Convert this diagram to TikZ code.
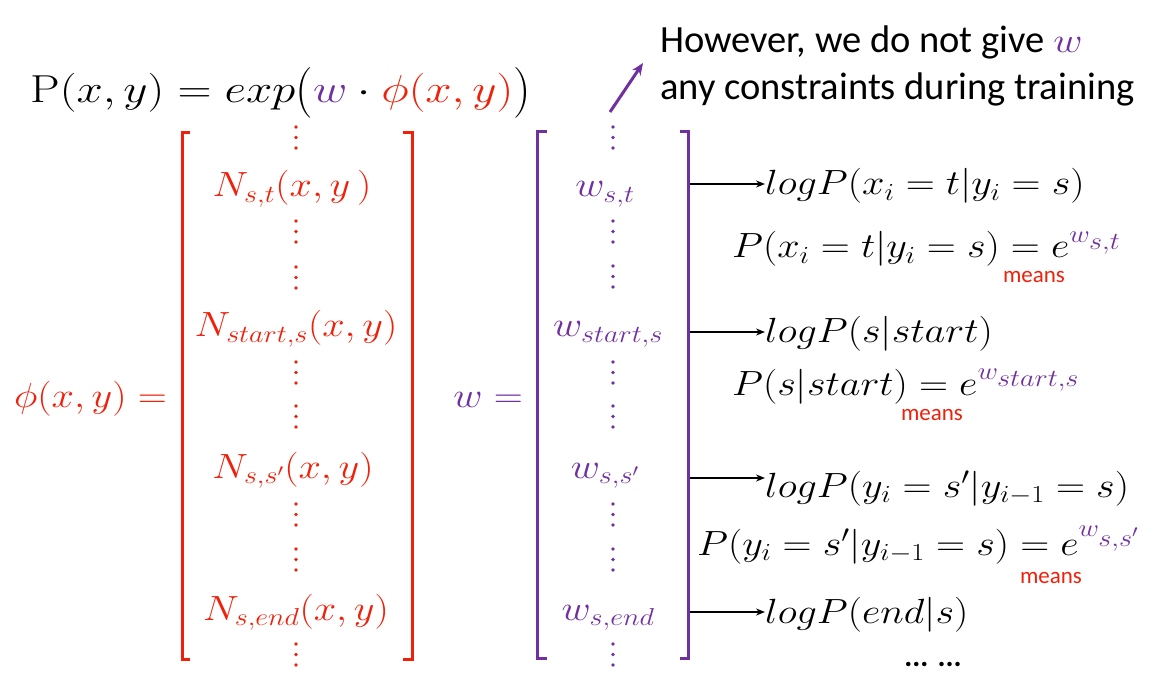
\RequirePackage{fix-cm}
\documentclass[tikz,border=0pt]{standalone}
\usepackage{fontspec}
\usepackage{graphicx}
\usetikzlibrary{arrows.meta}
\newfontfamily\calibri{Carlito}
\definecolor{myred}{RGB}{240,32,10}
\definecolor{mypurple}{RGB}{112,48,160}
\newcommand{\W}[1]{\scalebox{1.15}[1]{#1}}
\newcommand{\mfont}{\fontsize{35}{42}\selectfont}
\newcommand{\bpl}{\mathopen{\vcenter{\hbox{\scalebox{1.05}[1.3]{$($}}}}}
\newcommand{\bpr}{\mathclose{\vcenter{\hbox{\scalebox{1.05}[1.3]{$)$}}}}}
\tikzset{
  mtxt/.style={inner sep=0pt, font=\mfont},
  notetxt/.style={inner sep=0pt, anchor=base west, font=\calibri\fontsize{38.5}{46}\selectfont},
  brk/.style={line width=3pt},
  conn/.style={line width=2.2pt, -{Stealth[length=9pt,width=7pt]}},
  meansl/.style={inner sep=0pt, font=\calibri\fontsize{23}{26}\selectfont, text=myred, anchor=center},
}
\newcommand{\dts}[4]{\foreach \k in {0,1,2} {\fill[#4] (#1,#2+\k*#3) circle (1.8);}}
\begin{document}
\begin{tikzpicture}[x=1pt,y=-1pt]
\useasboundingbox[fill=white] (0,0) rectangle (1161,692);
% top formula
\node[inner sep=0pt, font=\fontsize{39}{46}\selectfont, anchor=base west] (pxy) at (30,103) {\scalebox{1.21}[1]{$\mathrm{P}(x,y) = exp\bpl\textcolor{mypurple}{w}\cdot\textcolor{myred}{\phi(x,y)}\bpr$}};
% note
\node[notetxt] (note1) at (660,53) {However, we do not give \textcolor{mypurple}{\mfont\W{$w$}}};
\node[notetxt] (note2) at (660,100) {any constraints during training};
\coordinate (a0) at (610,112);
\coordinate (a1) at (643,63);
\draw[mypurple, line width=3pt, -{Stealth[length=12pt,width=10pt]}] (a0) -- (a1);
% phi bracket
\draw[brk, myred] (190,133) -- (182,133) -- (182,659) -- (190,659);
\draw[brk, myred] (403,133) -- (412,133) -- (412,659) -- (403,659);
\node[mtxt, anchor=base east, text=myred] (phil) at (167,407) {\W{$\phi(x,y)=$}};
\dts{296}{127}{10.5}{myred}
\node[mtxt, anchor=base, text=myred] (n1) at (292,197) {\W{$N_{s,t}(x,y\,)$}};
\dts{296}{221}{10.5}{myred}
\dts{296}{267}{10.5}{myred}
\node[mtxt, anchor=base, text=myred] (n2) at (296,337) {\W{$N_{start,s}(x,y)$}};
\dts{296}{362}{10.5}{myred}
\dts{296}{406}{10.5}{myred}
\node[mtxt, anchor=base, text=myred] (n3) at (293,478) {\W{$N_{s,s'}(x,y)$}};
\dts{296}{504}{10.5}{myred}
\dts{296}{549}{10.5}{myred}
\node[mtxt, anchor=base, text=myred] (n4) at (296,620) {\W{$N_{s,end}(x,y)$}};
\dts{296}{644}{10.5}{myred}
% w bracket
\draw[brk, mypurple] (547,132) -- (537,132) -- (537,658) -- (547,658);
\draw[brk, mypurple] (680,132) -- (688,132) -- (688,658) -- (680,658);
\node[mtxt, anchor=base east, text=mypurple] (wl) at (523,407) {\W{$w=$}};
\dts{613}{127}{10.5}{mypurple}
\node[mtxt, anchor=base, text=mypurple] (w1) at (605,197) {\W{$w_{s,t}$}};
\dts{613}{221}{10.5}{mypurple}
\dts{613}{266}{10.5}{mypurple}
\node[mtxt, anchor=base, text=mypurple] (w2) at (608,337) {\W{$w_{start,s}$}};
\dts{613}{362}{10.5}{mypurple}
\dts{613}{406}{10.5}{mypurple}
\node[mtxt, anchor=base, text=mypurple] (w3) at (605,478) {\W{$w_{s,s'}$}};
\dts{613}{504}{10.5}{mypurple}
\dts{613}{549}{10.5}{mypurple}
\node[mtxt, anchor=base, text=mypurple] (w4) at (608,620) {\W{$w_{s,end}$}};
\dts{613}{644}{10.5}{mypurple}
% right side
\node[mtxt, anchor=base west] (l1) at (765,195) {\W{$logP(x_i=t|y_i=s)$}};
\node[mtxt, anchor=base west] (p1) at (732,258) {\W{$P(x_i=t|y_i=s)=e^{\textcolor{mypurple}{w_{\scriptstyle s,t}}}$}};
\node[meansl] (m1) at (1034,277) {means};
\node[mtxt, anchor=base west] (l2) at (765,342) {\W{$logP(s|start)$}};
\node[mtxt, anchor=base west] (p2) at (732,395) {\W{$P(s|start)=e^{\textcolor{mypurple}{w_{\scriptstyle start,s}}}$}};
\node[meansl] (m2) at (932,415) {means};
\node[mtxt, anchor=base west] (l3) at (765,497) {\W{$logP(y_i=s'|y_{i-1}=s)$}};
\node[mtxt, anchor=base west] (p3) at (697,555) {\W{$P(y_i=s'|y_{i-1}=s)=e^{\textcolor{mypurple}{w_{\scriptstyle s,s'}}}$}};
\node[meansl] (m3) at (1051,578) {means};
\node[mtxt, anchor=base west] (l4) at (765,623) {\W{$logP(end|s)$}};
\node[inner sep=0pt, font=\calibri\fontsize{30}{36}\selectfont, text=black] (dd) at (933,664) {\textbf{... ...}};
% connectors
\coordinate (c1) at (690,184);
\coordinate (c2) at (690,332);
\coordinate (c3) at (690,478);
\coordinate (c4) at (690,612);
\draw[conn] (c1) -- (c1 -| l1.west);
\draw[conn] (c2) -- (c2 -| l2.west);
\draw[conn] (c3) -- (c3 -| l3.west);
\draw[conn] (c4) -- (c4 -| l4.west);
\end{tikzpicture}
\end{document}
